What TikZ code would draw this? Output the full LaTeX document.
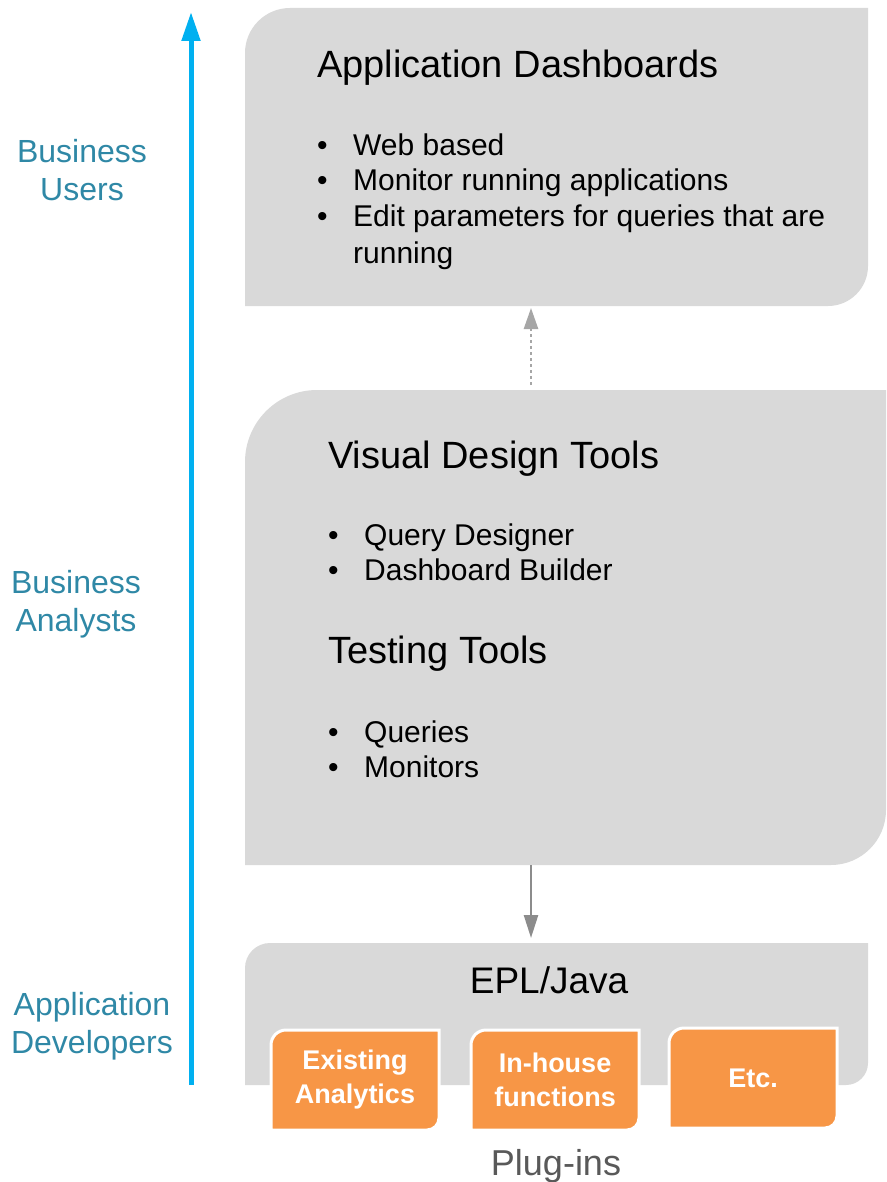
\documentclass[tikz,border=0pt]{standalone}
\usepackage{fontspec}
\setmainfont{Liberation Sans}
\usetikzlibrary{arrows.meta,backgrounds}
\definecolor{panel}{HTML}{D9D9D9}
\definecolor{plugin}{HTML}{F79646}
\definecolor{rolearrow}{HTML}{00B0F0}
\definecolor{roletext}{HTML}{2F88A6}
\definecolor{link}{HTML}{8C8C8C}
\definecolor{linklight}{HTML}{A6A6A6}
\definecolor{note}{HTML}{595959}

\tikzstyle{layer}=[inner sep=0pt, outer sep=0pt, anchor=north west]
\tikzstyle{heading}=[inner sep=0pt, anchor=base west, font=\fontsize{38}{44}\selectfont]
\tikzstyle{item}=[inner sep=0pt, anchor=base west, font=\fontsize{30}{36}\selectfont]
\tikzstyle{role}=[inner sep=0pt, anchor=north, align=center, text=roletext,
  font=\fontsize{32}{38}\selectfont]
\tikzstyle{plug}=[layer, minimum width=168pt, minimum height=100pt, align=center,
  text=white, font=\bfseries\fontsize{27}{34}\selectfont]

% fill a node as a leaf: top left and bottom right corners rounded
\newcommand\leaf[4]{%
  \path[#4] (#1.south west) -- ([yshift=-#2]#1.north west)
    arc[start angle=180, end angle=90, radius=#2] -- (#1.north east)
    -- ([yshift=#3]#1.south east)
    arc[start angle=0, end angle=-90, radius=#3] -- cycle;}

\begin{document}
\begin{tikzpicture}[x=1pt, y=-1pt]
\useasboundingbox (0,0) rectangle (886,1182);
% roles along the arrow
\coordinate (bottom) at (191,1085);
\coordinate (top) at (191,12);
\draw[rolearrow, line width=5pt, -{Triangle[length=29pt, width=18pt]}] (bottom) -- (top);
\draw (82,139) node[role](users){Business\\Users};
\draw (76,570) node[role](analysts){Business\\Analysts};
\draw (92,992) node[role](devs){Application\\Developers};
%
\draw (245,8) node[layer, minimum width=623pt, minimum height=298pt](dash){};
\draw (317,78) node[heading](dashhead){Application Dashboards};
\foreach \y/\t [count=\i] in {156/Web based, 191/Monitor running applications,
  227/Edit parameters for queries that are}{
  \draw (317,\y) node[item](dashdot\i){\textbullet};
  \draw (353,\y) node[item](dashitem\i){\t};
}
\draw (353,263) node[item](dashitem4){running};
%
\draw (245,390) node[layer, minimum width=641pt, minimum height=475pt](tools){};
\draw (328,468) node[heading](designhead){Visual Design Tools};
\draw (328,663) node[heading](testhead){Testing Tools};
\foreach \y/\t [count=\i] in {545/Query Designer, 580/Dashboard Builder,
  742/Queries, 777/Monitors}{
  \draw (328,\y) node[item](toolsdot\i){\textbullet};
  \draw (364,\y) node[item](toolsitem\i){\t};
}
%
\draw (245,943) node[layer, minimum width=623pt, minimum height=142pt](epl){};
\draw (549,993) node[inner sep=0pt, anchor=base, font=\fontsize{37}{44}\selectfont](eplhead){EPL/Java};
\foreach \x/\y/\n/\t in {271/1030/ana/{Existing\\Analytics}, 471/1030/inh/{In-house\\functions},
  669/1028/etc/{Etc.}}
  \draw (\x,\y) node[plug](\n){\t};
\draw (556,1175) node[inner sep=0pt, anchor=base, text=note, font=\fontsize{36}{42}\selectfont](plugins){Plug-ins};
% links between the layers
\draw[linklight, line width=2.5pt, dash pattern=on 3pt off 3pt, -{Triangle[length=21pt, width=14pt]}]
  ([xshift=286pt, yshift=5pt]tools.north west) -- ([xshift=286pt, yshift=-2pt]dash.south west);
\draw[link, line width=2.5pt, -{Triangle[length=23pt, width=14pt]}]
  ([xshift=286pt]tools.south west) -- ([xshift=286pt, yshift=5pt]epl.north west);
% Shapes behind the text
\begin{scope}[on background layer]
  \leaf{dash}{45pt}{40pt}{fill=panel}
  \leaf{tools}{72pt}{55pt}{fill=panel}
  \leaf{epl}{25pt}{22pt}{fill=panel}
  \foreach \n in {ana,inh,etc}{\leaf{\n}{15pt}{12pt}{fill=plugin, draw=white, line width=3pt}}
\end{scope}
\end{tikzpicture}
\end{document}
